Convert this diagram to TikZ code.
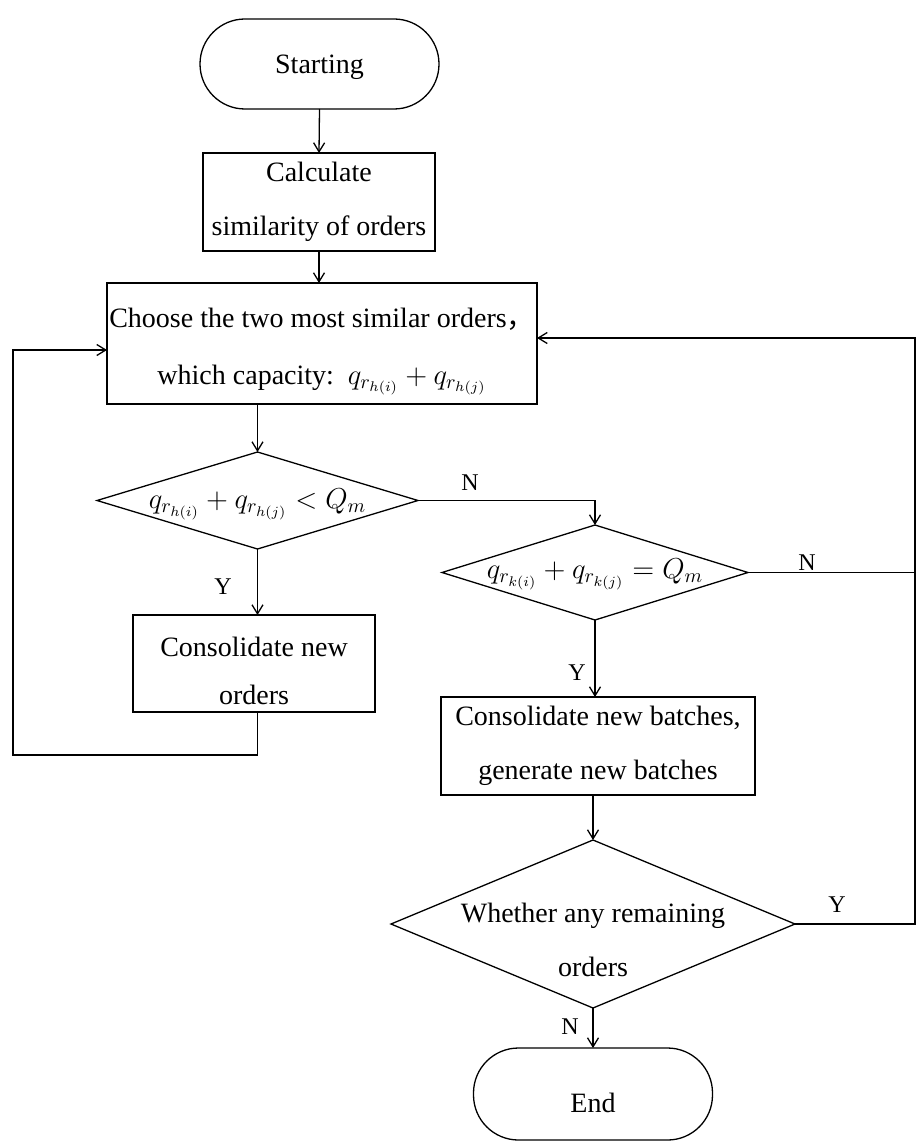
\documentclass[tikz,border=0pt]{standalone}
\usepackage{fontspec}
\setmainfont{Liberation Serif}
\newfontfamily\cjk{Noto Sans CJK SC}
\usetikzlibrary{shapes.geometric,arrows.meta,calc}
\begin{document}
\begin{tikzpicture}[x=1pt,y=-1pt,
  every node/.style={inner sep=0pt, outer sep=0pt},
  line/.style={draw, line width=1.3pt},
  arr/.style={line, -{Straight Barb[length=9pt,width=11pt,line width=1.3pt]}},
  boxnode/.style={draw, line width=1.3pt, rectangle},
  term/.style={draw, line width=1.3pt, rectangle, rounded corners=45pt, minimum width=239pt},
  dia/.style={draw, line width=1.3pt, diamond},
  txt/.style={font=\fontsize{14}{27}\selectfont, align=center, scale=2},
  lab/.style={font=\fontsize{12}{14}\selectfont, scale=2}]
\useasboundingbox (0,0) rectangle (918,1142);

\node[term, minimum height=90pt,
  label={[txt, name=startt, yshift=-1.5pt]center:Starting}] (start) at (319.5,64) {};
\node[boxnode, minimum width=232pt, minimum height=98pt,
  label={[txt, name=calct]center:Calculate\\similarity of orders}] (calc) at (319,202) {};
\node[boxnode, minimum width=430pt, minimum height=121pt,
  label={[txt, name=chooset, yshift=-4pt]center:Choose the two most similar orders{\cjk ，}\\[1.5pt]which capacity:\ \ $q_{r_{h(i)}}+q_{r_{h(j)}}$}] (choose) at (322,343.5) {};
\node[dia, minimum width=321pt, minimum height=97pt,
  label={[txt, name=d1t, yshift=-2pt]center:$q_{r_{h(i)}}+q_{r_{h(j)}}<Q_m$}] (d1) at (257.5,500.5) {};
\node[dia, minimum width=306pt, minimum height=95pt,
  label={[txt, name=d2t, yshift=-1pt]center:$q_{r_{k(i)}}+q_{r_{k(j)}}=Q_m$}] (d2) at (595,572.5) {};
\node[boxnode, minimum width=242pt, minimum height=97pt,
  label={[txt, name=const, yshift=-3.5pt]center:Consolidate new\\[-3pt]orders}] (cons) at (254,663.5) {};
\node[boxnode, minimum width=314pt, minimum height=98pt,
  label={[txt, name=batcht]center:Consolidate new batches,\\generate new batches}] (batch) at (598,746) {};
\node[dia, minimum width=404pt, minimum height=168pt,
  label={[txt, name=d3t, yshift=-8pt]center:Whether any remaining\\orders}] (d3) at (593,924) {};
\node[term, minimum height=92pt,
  label={[txt, name=endt, yshift=-4.5pt]center:End}] (end) at (593,1094) {};

\coordinate (lp1) at (13,755);
\coordinate (rx) at (915,0);

\draw[arr] (start.south) -- (calc.north);
\draw[arr] (calc.south) -- (calc.south |- choose.north);
\draw[arr] (d1.north |- choose.south) -- (d1.north);
\draw[arr] (d1.east) -| (d2.north);
\draw[arr] (d1.south) -- (d1.south |- cons.north);
\draw[arr] (d2.south) -- (d2.south |- batch.north);
\draw[arr] (d3.north |- batch.south) -- (d3.north);
\draw[arr] (d3.south) -- (end.north);
\draw[arr] (d1.south |- cons.south) |- (lp1) |- ([yshift=-6.5pt]choose.west);
\draw[arr] (d3.east) -- (d3.east -| rx) |- ([yshift=5.5pt]choose.east);
\draw[line] (d2.east) -- (d2.east -| rx);

\node[lab] (n1) at (470,483) {N};
\node[lab] (y1) at (223,587) {Y};
\node[lab] (n2) at (807,563) {N};
\node[lab] (y2) at (577,673) {Y};
\node[lab] (y3) at (837,905) {Y};
\node[lab] (n3) at (570,1027) {N};
\end{tikzpicture}
\end{document}
